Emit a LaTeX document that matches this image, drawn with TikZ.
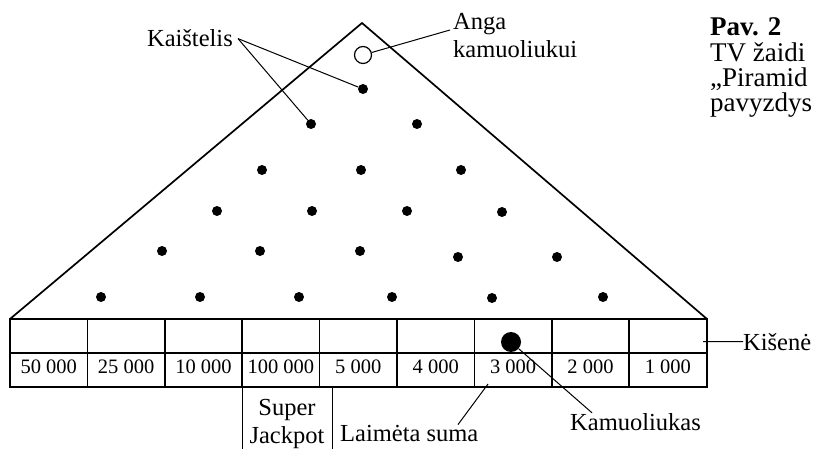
\documentclass[tikz,border=0pt]{standalone}
\usepackage{fontspec}
\setmainfont{Liberation Serif}
\usepackage{tikz}
\usetikzlibrary{positioning}

\tikzset{
  peg/.style={circle, fill=black, inner sep=0pt, minimum size=10pt},
  lbl/.style={font=\fontsize{24.5}{28}\selectfont, inner sep=0pt, anchor=base west},
  captxt/.style={font=\fontsize{27}{30}\selectfont, inner sep=0pt, anchor=base west},
  val/.style={font=\fontsize{20.5}{24}\selectfont, inner sep=0pt, anchor=base},
  edge/.style={line width=1.7pt},
  lead/.style={line width=1pt}
}

\begin{document}
\begin{tikzpicture}[x=1pt, y=-1pt]
\useasboundingbox (0,0) rectangle (814,449);

\draw [edge, line join=miter] (10,319) -- (362,23) -- (707,319);
\node [circle, draw, line width=1.2pt, minimum size=17pt, inner sep=0pt] (hole) at (363,55) {};
\foreach \n/\px/\py in {p1/363/89, p2/311/124, p3/417/124, p4/262/170, p5/361/170, p6/461/170,
    p7/217/211, p8/312/211, p9/407/211, p10/502/212, p11/162/251, p12/260/251, p13/360/251,
    p14/458/257, p15/557/257, p16/101/297, p17/200/297, p18/299/297, p19/392/297, p20/492/298, p21/603/297}
  \node [peg] (\n) at (\px,\py) {};

\draw [edge] (10,319) rectangle (707,387);
\draw [edge] (10,353) -- (707,353);
\foreach \i in {1,...,8} \draw [edge] ({10+77.4*\i},319) -- ({10+77.4*\i},387);
\foreach \v [count=\i] in {{50 000}, {25 000}, {10 000}, {100 000}, {5 000}, {4 000}, {3 000}, {2 000}, {1 000}}
  \node [val] (sum\i) at ({10+77.4*(\i-0.5)},373) {\v};
\node [circle, fill=black, inner sep=0pt, minimum size=20pt] (ball) at (511,342) {};

\draw [lead] (242.2,387) -- (242.2,449);
\draw [lead] (332,387) -- (332,449);
\node [lbl, anchor=base] (super) at (287,415) {Super};
\node [lbl, anchor=base] (jackpot) at (287,443) {Jackpot};

\node [lbl, anchor=base east] (kaist) at (233,47) {Kaištelis};
\draw [lead] ([xshift=5pt]kaist.east) -- (p1);
\draw [lead] ([xshift=5pt]kaist.east) -- (p2);

\node [lbl] (anga) at (453,30) {Anga};
\node [lbl] (angab) at (453,58) {kamuoliukui};
\draw [lead] (hole) -- ([xshift=-3pt]anga.base west);

\node [captxt, font=\fontsize{27}{30}\selectfont\bfseries] (pav) at (710,36) {Pav. 2};
\node [captxt] (pava) at (710,62) {TV žaidi};
\node [captxt] (pavb) at (710,87) {„Piramid};
\node [captxt] (pavc) at (710,112) {pavyzdys};

\node [lbl] (kisene) at (743,350) {Kišenė};
\coordinate (pocket) at (703,341.5);
\draw [lead] (pocket) -- (kisene.west);

\node [lbl] (kamuol) at (570,430) {Kamuoliukas};
\draw [lead] (ball) -- ([xshift=22pt]kamuol.north west);

\node [lbl] (laimeta) at (340,441) {Laimėta suma};
\coordinate (won) at (488,384);
\draw [lead] (won) -- ([xshift=118pt]laimeta.north west);
\end{tikzpicture}
\end{document}
